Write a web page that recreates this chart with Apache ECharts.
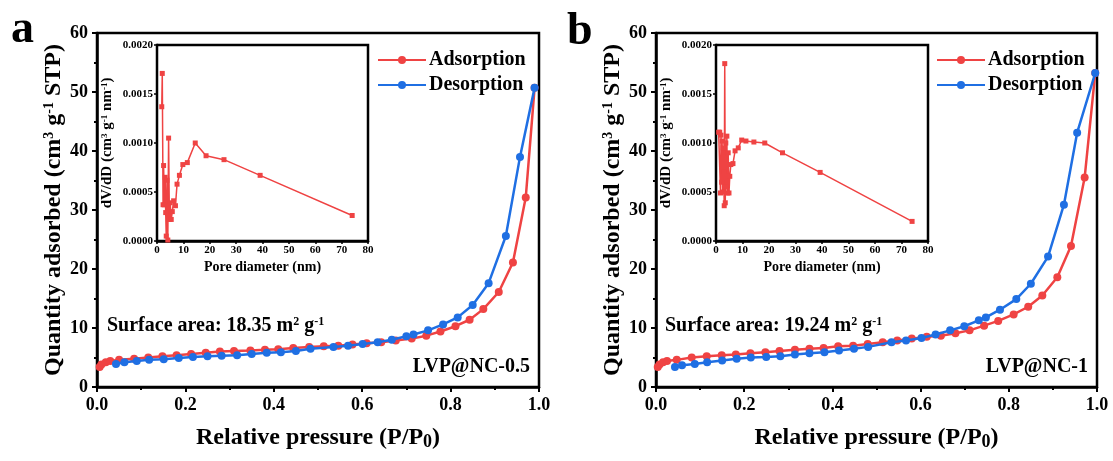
<!DOCTYPE html>
<html>
<head>
<meta charset="utf-8">
<script src="https://cdn.jsdelivr.net/npm/echarts@6/dist/echarts.min.js"></script>
<style>
  html, body { margin: 0; padding: 0; background: #fff; }
  #chart { width: 1113px; height: 461px; }
</style>
</head>
<body>
<div id="chart"></div>
<script>
// ---- data ----
// panel a : LVP@NC-0.5
var pAdsA = [0.006, 0.01, 0.02, 0.03, 0.05, 0.084, 0.116, 0.148, 0.18, 0.213, 0.246, 0.278, 0.31, 0.347, 0.38, 0.41, 0.444, 0.48, 0.513, 0.546, 0.578, 0.61, 0.643, 0.676, 0.712, 0.745, 0.777, 0.811, 0.843, 0.874, 0.909, 0.941, 0.97, 0.99];
var qAdsA = [3.4, 3.8, 4.2, 4.4, 4.6, 4.8, 5.0, 5.2, 5.4, 5.6, 5.8, 6.0, 6.1, 6.2, 6.3, 6.4, 6.6, 6.8, 6.9, 7.0, 7.2, 7.4, 7.6, 7.9, 8.2, 8.7, 9.4, 10.3, 11.4, 13.2, 16.1, 21.1, 32.1, 50.7];
var pDesA = [0.99, 0.957, 0.925, 0.886, 0.85, 0.816, 0.783, 0.749, 0.716, 0.7, 0.667, 0.635, 0.601, 0.568, 0.535, 0.483, 0.45, 0.416, 0.384, 0.35, 0.317, 0.282, 0.25, 0.217, 0.185, 0.151, 0.118, 0.09, 0.062, 0.043];
var qDesA = [50.7, 39.0, 25.6, 17.6, 13.9, 11.8, 10.6, 9.6, 8.9, 8.6, 8.0, 7.6, 7.3, 7.0, 6.8, 6.5, 6.1, 5.9, 5.8, 5.6, 5.4, 5.3, 5.2, 5.1, 4.9, 4.7, 4.6, 4.4, 4.2, 3.9];
var poreA = [1.8, 2.0, 2.3, 2.5, 2.8, 3.1, 3.3, 3.5, 3.8, 4.1, 4.4, 4.7, 5.0, 5.4, 5.8, 6.3, 7.0, 7.6, 8.5, 9.8, 11.5, 14.5, 18.6, 25.4, 39.1, 74];
var dvdA = [0.00137, 0.00171, 0.00037, 0.00077, 0.00037, 0.00065, 0.00029, 0.00005, 0.00062, 0.00001, 0.00105, 0.00022, 0.00039, 0.00022, 0.00030, 0.00041, 0.00036, 0.00058, 0.00067, 0.00078, 0.00080, 0.00100, 0.00087, 0.00083, 0.00067, 0.00026];

// panel b : LVP@NC-1
var pAdsB = [0.004, 0.008, 0.016, 0.025, 0.047, 0.081, 0.115, 0.149, 0.181, 0.214, 0.248, 0.28, 0.315, 0.348, 0.38, 0.413, 0.447, 0.48, 0.514, 0.547, 0.58, 0.614, 0.646, 0.679, 0.711, 0.744, 0.776, 0.811, 0.844, 0.876, 0.91, 0.941, 0.972, 0.996];
var qAdsB = [3.4, 3.8, 4.2, 4.4, 4.6, 5.0, 5.2, 5.4, 5.5, 5.7, 5.9, 6.1, 6.3, 6.5, 6.6, 6.9, 7.0, 7.3, 7.6, 7.9, 8.2, 8.5, 8.7, 9.1, 9.6, 10.4, 11.2, 12.3, 13.6, 15.5, 18.6, 23.9, 35.5, 53.2];
var pDesB = [0.996, 0.955, 0.925, 0.889, 0.85, 0.817, 0.78, 0.748, 0.732, 0.699, 0.667, 0.634, 0.602, 0.567, 0.534, 0.481, 0.449, 0.415, 0.382, 0.348, 0.315, 0.282, 0.25, 0.215, 0.183, 0.15, 0.116, 0.088, 0.059, 0.043];
var qDesB = [53.2, 43.1, 30.9, 22.1, 17.5, 14.9, 13.1, 11.8, 11.3, 10.3, 9.6, 8.9, 8.3, 7.9, 7.6, 6.8, 6.5, 6.2, 5.9, 5.7, 5.5, 5.2, 5.1, 5.0, 4.8, 4.5, 4.2, 3.9, 3.7, 3.4];
var poreB = [1.0, 1.4, 1.7, 1.9, 2.1, 2.3, 2.5, 2.7, 2.9, 3.1, 3.3, 3.5, 3.7, 3.9, 4.1, 4.3, 4.6, 4.9, 5.2, 5.6, 6.4, 7.2, 8.4, 9.7, 11.3, 14.3, 18.4, 25.1, 39.3, 74];
var dvdB = [0.00111, 0.00111, 0.00049, 0.00108, 0.00060, 0.00102, 0.00050, 0.00095, 0.00070, 0.00036, 0.00181, 0.00039, 0.00100, 0.00055, 0.00107, 0.00049, 0.00090, 0.00049, 0.00066, 0.00078, 0.00079, 0.00092, 0.00095, 0.00103, 0.00102, 0.00101, 0.00100, 0.00090, 0.00070, 0.00020];

var surfaceA = "18.35";
var surfaceB = "19.24";

// ---- styling ----
var FONT = '"Liberation Serif", "Times New Roman", serif';
var RED = "#EF4343";
var BLUE = "#1F6FE3";

function zip(xs, ys) {
  var out = [];
  for (var i = 0; i < xs.length; i++) out.push([xs[i], ys[i]]);
  return out;
}

function supRich(size) {
  return {
    n: { fontSize: size, fontWeight: "bold", fontFamily: FONT, color: "#000" },
    sup: { fontSize: Math.round(size * 0.6), fontWeight: "bold", fontFamily: FONT, color: "#000", verticalAlign: "top" },
    sub: { fontSize: Math.round(size * 0.75), fontWeight: "bold", fontFamily: FONT, color: "#000", verticalAlign: "bottom", padding: [9, 0, 0, 0] }
  };
}

// main axes (isotherm)
function mainX(grid) {
  return {
    type: "value", gridIndex: grid, min: 0, max: 1, interval: 0.2,
    name: "{n|Relative pressure (P/P}{sub|0}{n|)}",
    nameLocation: "middle", nameGap: 37,
    nameTextStyle: { rich: supRich(24) },
    axisLine: { show: true, lineStyle: { color: "#000", width: 2.5 } },
    axisTick: { show: true, length: 5, lineStyle: { color: "#000", width: 2 } },
    minorTick: { show: true, splitNumber: 2, length: 3, lineStyle: { color: "#000", width: 2 } },
    splitLine: { show: false },
    axisLabel: { margin: 9, fontSize: 18, fontWeight: "bold", fontFamily: FONT, color: "#000",
      formatter: function (v) { return v.toFixed(1); } }
  };
}
function mainY(grid) {
  return {
    type: "value", gridIndex: grid, min: 0, max: 60, interval: 10,
    name: "{n|Quantity adsorbed (cm}{sup|3}{n| g}{sup|-1}{n| STP)}",
    nameLocation: "middle", nameGap: 31, nameRotate: 90,
    nameTextStyle: { rich: supRich(24) },
    axisLine: { show: true, lineStyle: { color: "#000", width: 2.5 } },
    axisTick: { show: true, length: 5, lineStyle: { color: "#000", width: 2 } },
    minorTick: { show: true, splitNumber: 2, length: 3, lineStyle: { color: "#000", width: 2 } },
    splitLine: { show: false },
    axisLabel: { margin: 9, fontSize: 18, fontWeight: "bold", fontFamily: FONT, color: "#000" }
  };
}
// inset axes (pore size distribution)
function insetX(grid) {
  return {
    type: "value", gridIndex: grid, min: 0, max: 80, interval: 10,
    name: "Pore diameter (nm)", nameLocation: "middle", nameGap: 19,
    nameTextStyle: { fontSize: 14, fontWeight: "bold", fontFamily: FONT, color: "#000" },
    axisLine: { show: true, lineStyle: { color: "#000", width: 2.5 } },
    axisTick: { show: true, length: 3, lineStyle: { color: "#000", width: 1.5 } },
    splitLine: { show: false },
    axisLabel: { margin: 4, fontSize: 11, fontWeight: "bold", fontFamily: FONT, color: "#000" }
  };
}
function insetY(grid) {
  return {
    type: "value", gridIndex: grid, min: 0, max: 0.002, interval: 0.0005,
    name: "{n|dV/dD (cm}{sup|3}{n| g}{sup|-1}{n| nm}{sup|-1}{n|)}",
    nameLocation: "middle", nameGap: 42, nameRotate: 90,
    nameTextStyle: { rich: supRich(15) },
    axisLine: { show: true, lineStyle: { color: "#000", width: 2.5 } },
    axisTick: { show: true, length: 3, lineStyle: { color: "#000", width: 1.5 } },
    splitLine: { show: false },
    axisLabel: { margin: 4, fontSize: 11, fontWeight: "bold", fontFamily: FONT, color: "#000",
      formatter: function (v) { return v.toFixed(4); } }
  };
}

function isoSeries(name, color, data, axis) {
  return {
    name: name, type: "line", xAxisIndex: axis, yAxisIndex: axis, data: data,
    symbol: "circle", symbolSize: 8, color: color, z: name === "Desorption" ? 4 : 3,
    lineStyle: { width: 2.5, color: color }, itemStyle: { color: color }
  };
}
function poreSeries(data, axis) {
  return {
    name: "PSD", type: "line", xAxisIndex: axis, yAxisIndex: axis, data: data,
    symbol: "rect", symbolSize: 5, z: 10,
    lineStyle: { width: 1.5, color: RED }, itemStyle: { color: RED }
  };
}

function legendAt(left) {
  return {
    left: left, top: 45, orient: "vertical", itemWidth: 48, itemHeight: 10, itemGap: 5,
    data: ["Adsorption", "Desorption"], selectedMode: false,
    textStyle: { fontSize: 20, fontWeight: "bold", fontFamily: FONT, color: "#000", padding: [0, 0, 0, -2] }
  };
}

function textEl(x, y, text, size, align, rich) {
  return {
    type: "text", x: x, y: y, z: 20,
    style: {
      text: text, fill: "#000", textAlign: align || "left", textVerticalAlign: "middle",
      font: "bold " + size + "px " + FONT, rich: rich
    }
  };
}

var chart = echarts.init(document.getElementById("chart"), null, { renderer: "canvas" });

var option = {
  backgroundColor: "#fff",
  animation: false,
  grid: [
    { left: 97, top: 33, width: 442, height: 354, show: true, borderColor: "#000", borderWidth: 2.5, z: 1 },
    { left: 157, top: 45, width: 211, height: 196, show: true, borderColor: "#000", borderWidth: 2.5, backgroundColor: "#fff", z: 5 },
    { left: 656, top: 33, width: 441, height: 354, show: true, borderColor: "#000", borderWidth: 2.5, z: 1 },
    { left: 716, top: 45, width: 212, height: 196, show: true, borderColor: "#000", borderWidth: 2.5, backgroundColor: "#fff", z: 5 }
  ],
  xAxis: [mainX(0), insetX(1), mainX(2), insetX(3)],
  yAxis: [mainY(0), insetY(1), mainY(2), insetY(3)],
  legend: [legendAt(372), legendAt(931)],
  series: [
    isoSeries("Adsorption", RED, zip(pAdsA, qAdsA), 0),
    isoSeries("Desorption", BLUE, zip(pDesA, qDesA), 0),
    poreSeries(zip(poreA, dvdA), 1),
    isoSeries("Adsorption", RED, zip(pAdsB, qAdsB), 2),
    isoSeries("Desorption", BLUE, zip(pDesB, qDesB), 2),
    poreSeries(zip(poreB, dvdB), 3)
  ],
  graphic: [
    textEl(11, 30, "a", 46),
    textEl(567, 32, "b", 46),
    textEl(107, 326, "{n|Surface area: " + surfaceA + " m}{sup|2}{n| g}{sup|-1}", 20, "left", supRich(20)),
    textEl(665, 326, "{n|Surface area: " + surfaceB + " m}{sup|2}{n| g}{sup|-1}", 20, "left", supRich(20)),
    textEl(530, 367, "LVP@NC-0.5", 20, "right"),
    textEl(1088, 367, "LVP@NC-1", 20, "right")
  ]
};

chart.setOption(option);
</script>
</body>
</html>
